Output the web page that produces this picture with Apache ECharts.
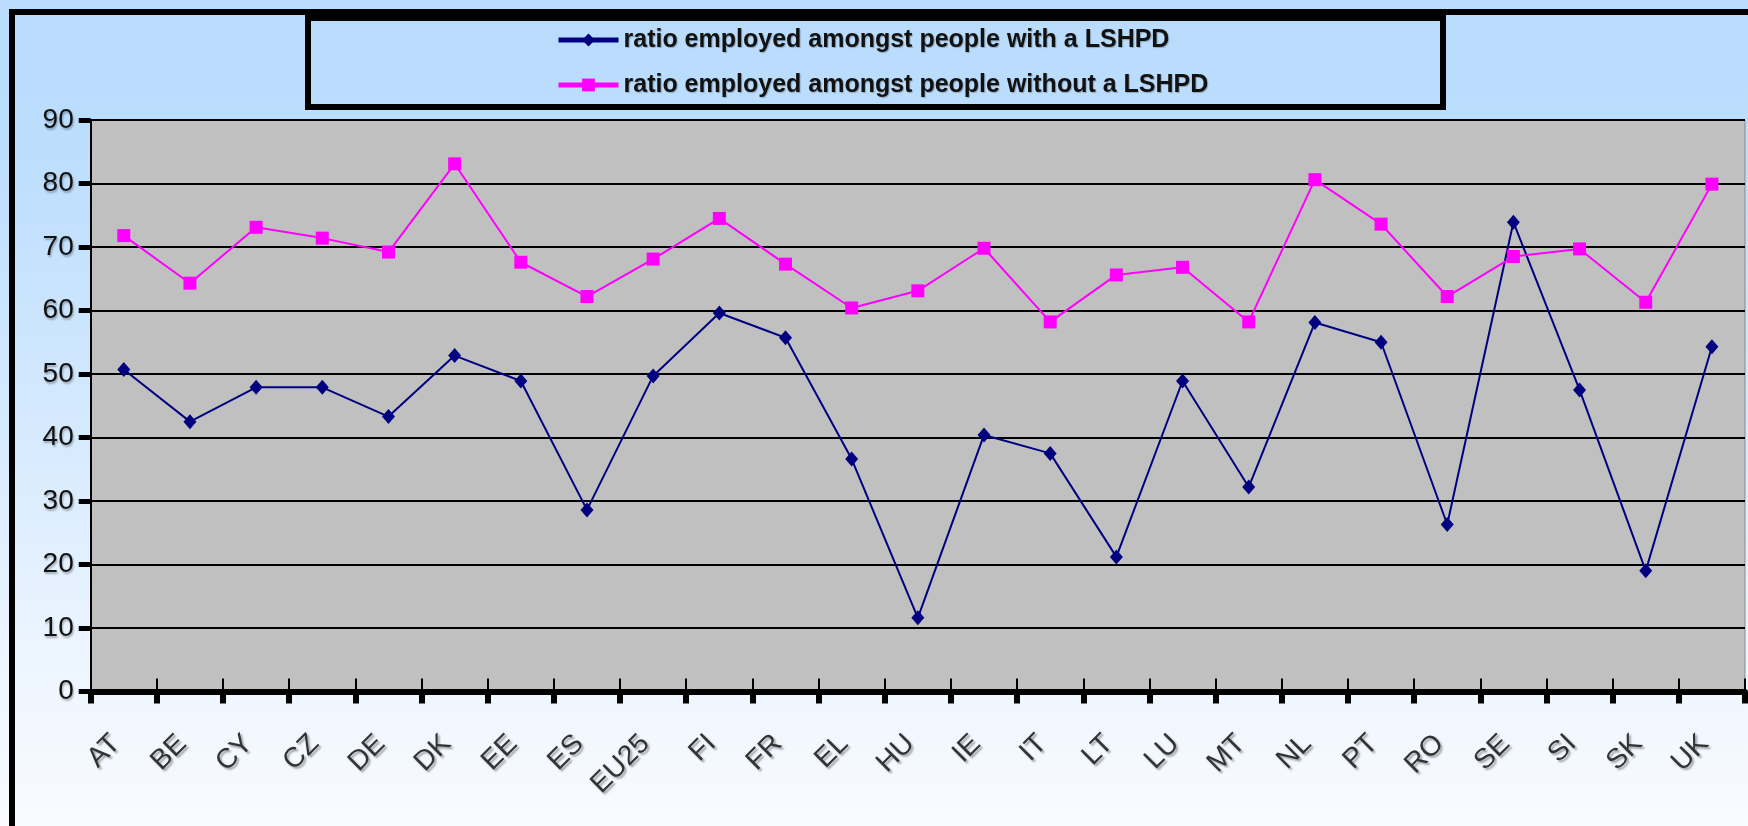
<!DOCTYPE html>
<html>
<head>
<meta charset="utf-8">
<script src="https://cdn.jsdelivr.net/npm/echarts@6/dist/echarts.min.js"></script>
<style>
html,body{margin:0;padding:0;}
#chart{width:1748px;height:826px;}
</style>
</head>
<body>
<div id="chart"></div>
<script>
var categories = ['AT','BE','CY','CZ','DE','DK','EE','ES','EU25','FI','FR','EL','HU','IE','IT','LT','LU','MT','NL','PT','RO','SE','SI','SK','UK'];
var seriesNames = ['ratio employed amongst people with a LSHPD','ratio employed amongst people without a LSHPD'];
var withLSHPD = [50.7,42.5,47.9,47.9,43.3,52.9,48.9,28.6,49.7,59.6,55.7,36.6,11.6,40.4,37.5,21.2,48.9,32.2,58.1,55.0,26.3,73.9,47.5,19.0,54.3];
var withoutLSHPD = [71.8,64.3,73.1,71.4,69.2,83.1,67.6,62.2,68.1,74.5,67.3,60.4,63.1,69.8,58.2,65.6,66.8,58.2,80.6,73.6,62.2,68.5,69.7,61.3,79.9];
var yTicks = [0,10,20,30,40,50,60,70,80,90];

var FONT = "'Liberation Sans', Arial, sans-serif";
var chart = echarts.init(document.getElementById('chart'), null, {renderer:'canvas'});
var option = {
  animation: false,
  backgroundColor: {
    type: 'linear', x: 0, y: 0, x2: 0, y2: 1,
    colorStops: [
      {offset: 0, color: '#b9dcfd'},
      {offset: 0.2, color: '#bddefd'},
      {offset: 0.55, color: '#d8ebfe'},
      {offset: 0.8, color: '#edf5ff'},
      {offset: 1, color: '#f9fbff'}
    ]
  },
  graphic: [
    {type:'rect', z: 100, silent: true, shape:{x:12, y:12, width:1800, height:900},
     style:{fill:'none', stroke:'#000', lineWidth:6}},
    {type:'rect', z: 100, silent: true, shape:{x:308, y:18, width:1135, height:89},
     style:{fill:'none', stroke:'#000', lineWidth:6}}
  ],
  legend: {
    orient: 'vertical',
    left: 551,
    top: 20,
    itemWidth: 60,
    itemHeight: 16,
    itemGap: 15,
    lineStyle: {width: 5},
    textStyle: {fontSize: 25, fontWeight: 'bold', lineHeight: 30, color: '#111', fontFamily: FONT,
      textShadowColor: 'rgba(0,0,0,0.25)', textShadowBlur: 1, textShadowOffsetX: 1, textShadowOffsetY: 1},
    data: seriesNames
  },
  grid: {
    left: 90.7, right: 3, top: 120, bottom: 134.5,
    show: true, backgroundColor: '#c0c0c0', borderColor: '#8a8a8a', borderWidth: 1,
    containLabel: false
  },
  xAxis: [
    {
      type: 'category', data: categories, boundaryGap: true, position: 'bottom',
      axisLine: {show: true, lineStyle: {color: '#000', width: 6}},
      axisTick: {show: true, inside: false, length: 12, lineStyle: {color: '#000', width: 6}, interval: 0},
      axisLabel: {
        interval: 0, rotate: 45, margin: 40, fontSize: 28, color: '#333', fontFamily: FONT,
        padding: [0, 11, 0, 0],
        textShadowColor: 'rgba(0,0,0,0.35)', textShadowBlur: 2, textShadowOffsetX: 2, textShadowOffsetY: 2
      },
      splitLine: {show: false}
    },
    {
      type: 'category', data: categories, boundaryGap: true, position: 'bottom',
      axisLine: {show: false},
      axisTick: {show: true, inside: true, length: 13, lineStyle: {color: '#000', width: 2}, interval: 0},
      axisLabel: {show: false},
      splitLine: {show: false}
    }
  ],
  yAxis: {
    type: 'value', min: yTicks[0], max: yTicks[yTicks.length - 1], interval: 10,
    axisLine: {show: true, lineStyle: {color: '#000', width: 2}},
    axisTick: {show: true, inside: false, length: 12, lineStyle: {color: '#000', width: 5}},
    axisLabel: {
      margin: 17, fontSize: 28, color: '#111', fontFamily: FONT,
      textShadowColor: 'rgba(0,0,0,0.3)', textShadowBlur: 2, textShadowOffsetX: 1, textShadowOffsetY: 2
    },
    splitLine: {show: true, lineStyle: {color: '#000', width: 2}}
  },
  series: [
    {
      name: seriesNames[0], type: 'line', data: withLSHPD, xAxisIndex: 0,
      symbol: 'diamond', symbolSize: [13, 15],
      itemStyle: {color: '#000080'},
      lineStyle: {color: '#000080', width: 2}
    },
    {
      name: seriesNames[1], type: 'line', data: withoutLSHPD, xAxisIndex: 0,
      symbol: 'rect', symbolSize: 13,
      itemStyle: {color: '#ff00ff'},
      lineStyle: {color: '#ff00ff', width: 2}
    }
  ]
};
chart.setOption(option);
</script>
</body>
</html>
